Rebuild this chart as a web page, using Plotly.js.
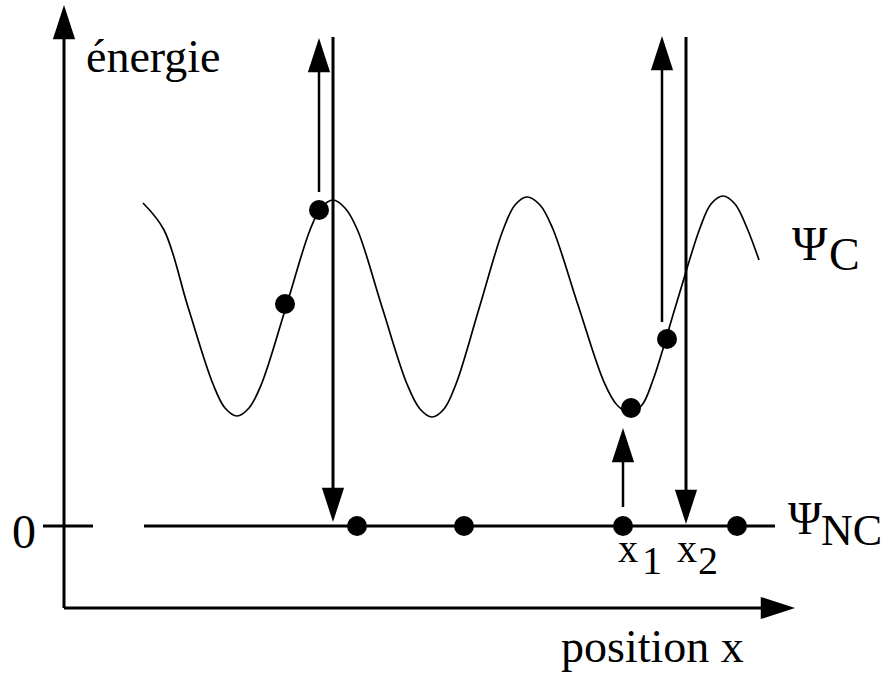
<!DOCTYPE html>
<html>
<head>
<meta charset="utf-8">
<script src="https://cdn.plot.ly/plotly-3.0.1.min.js"></script>
<style>html,body{margin:0;padding:0;background:#fff;}#chart{width:893px;height:674px;}</style>
</head>
<body>
<div id="chart"></div>
<script>
// Coherent (Psi_C) energy curve
const curveX = [0.79, 1.00, 1.24, 1.49, 1.61, 1.73, 1.85, 1.975, 2.22, 2.46, 2.57, 2.69, 2.81, 2.935, 3.18, 3.43, 3.56, 3.68, 3.80, 3.92, 4.155, 4.39, 4.51, 4.63, 4.76, 4.885, 5.14, 5.40, 5.53, 5.66, 5.78, 5.89, 6.12, 6.36, 6.47, 6.59, 6.71, 6.83, 6.95];
const curveY = [3.23, 2.96, 2.19, 1.42, 1.18, 1.10, 1.18, 1.42, 2.19, 2.96, 3.18, 3.26, 3.18, 2.96, 2.19, 1.42, 1.17, 1.09, 1.17, 1.42, 2.19, 2.96, 3.21, 3.29, 3.21, 2.98, 2.21, 1.44, 1.21, 1.13, 1.21, 1.46, 2.21, 2.98, 3.22, 3.30, 3.22, 2.98, 2.66];
// Points sitting on Psi_C
const cDotsX = [2.21, 2.55, 5.67, 6.03];
const cDotsY = [2.22, 3.16, 1.18, 1.87];
// Non-coherent level (energy 0)
const ncLineX = [0.80, 7.11];
const ncLineY = [0, 0];
const ncDotsX = [2.93, 4.00, 5.59, 6.73];
const ncDotsY = [0, 0, 0, 0];
// Transition arrows: x position, start energy, end energy
const arrowX    = [2.55, 2.69, 5.98, 6.22, 5.59];
const arrowFrom = [3.34, 4.89, 2.04, 4.89, 0.19];
const arrowTo   = [4.88, 0.04, 4.90, 0.02, 0.98];
// Axes (energy / position)
const yAxisX = [0, 0], yAxisY = [-0.82, 5.21];
const xAxisX = [0, 7.31], xAxisY = [-0.82, -0.82];
const zeroTickX = [-0.21, 0.29], zeroTickY = [0, 0];
// Labels
const labelEnergy = 'énergie';
const labelPosition = 'position x';
const labelZero = '0';

const FONT = 'Liberation Serif, Times New Roman, serif';
const HEAD = 36;          // arrowhead marker size (px)
const HEADBACK = 0.15;    // shaft stops inside the head (data units)

const traces = [];
function shaft(xs, ys, w) {
  traces.push({x: xs, y: ys, mode: 'lines', line: {color: '#000', width: w}, hoverinfo: 'skip', showlegend: false});
}
// axes shafts
shaft(yAxisX, [yAxisY[0], yAxisY[1] - HEADBACK], 3);
shaft([xAxisX[0], xAxisX[1] - HEADBACK], xAxisY, 3);
shaft(zeroTickX, zeroTickY, 3);
// Psi_NC level
shaft(ncLineX, ncLineY, 3);
// Psi_C curve
traces.push({x: curveX, y: curveY, mode: 'lines', line: {color: '#000', width: 1.7, shape: 'spline', smoothing: 1}, hoverinfo: 'skip', showlegend: false});
// transition arrows
const shaftW = [2.5, 3, 2.5, 3, 2.5];
for (let i = 0; i < arrowX.length; i++) {
  const dir = arrowTo[i] > arrowFrom[i] ? 1 : -1;
  shaft([arrowX[i], arrowX[i]], [arrowFrom[i], arrowTo[i] - dir * HEADBACK], shaftW[i]);
}
// arrow heads
const headX = [yAxisX[1], xAxisX[1]].concat(arrowX);
const headY = [yAxisY[1], xAxisY[1]].concat(arrowTo);
const headA = [0, 90].concat(arrowX.map((_, i) => arrowTo[i] > arrowFrom[i] ? 0 : 180));
traces.push({x: headX, y: headY, mode: 'markers', marker: {symbol: 'arrow', size: HEAD, color: '#000', angle: headA, line: {width: 0}}, hoverinfo: 'skip', showlegend: false});
// dots
traces.push({x: cDotsX.concat(ncDotsX), y: cDotsY.concat(ncDotsY), mode: 'markers', marker: {symbol: 'circle', size: 20, color: '#000', line: {width: 0}}, hoverinfo: 'skip', showlegend: false});

function lab(text, x, y, size, xanchor) {
  return {text: text, x: x, y: y, xref: 'x', yref: 'y', showarrow: false, xanchor: xanchor || 'left', yanchor: 'middle', font: {family: FONT, size: size, color: '#000'}};
}
const annotations = [
  lab(labelEnergy, 0.20, 4.70, 46),
  lab(labelZero, -0.40, -0.05, 48, 'center'),
  lab(labelPosition, 4.95, -1.20, 46),
  lab('Ψ', 7.26, 2.83, 48),
  lab('C', 7.63, 2.72, 46),
  lab('Ψ', 7.22, 0.08, 46),
  lab('NC', 7.55, -0.04, 44),
  lab('x', 5.52, -0.22, 40),
  lab('1', 5.76, -0.34, 40),
  lab('x', 6.11, -0.22, 40),
  lab('2', 6.32, -0.34, 40)
];

const layout = {
  width: 893, height: 674, autosize: false,
  margin: {l: 0, r: 0, t: 0, b: 0, pad: 0},
  paper_bgcolor: '#fff', plot_bgcolor: '#fff',
  showlegend: false,
  xaxis: {range: [-0.64, 8.29], visible: false, fixedrange: true},
  yaxis: {range: [-1.48, 5.26], visible: false, fixedrange: true},
  annotations: annotations
};
Plotly.newPlot('chart', traces, layout, {displayModeBar: false, staticPlot: true});
</script>
</body>
</html>
